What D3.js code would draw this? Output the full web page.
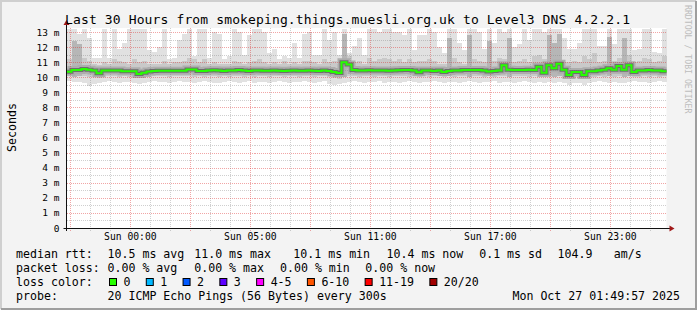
<!DOCTYPE html>
<html>
<head>
<meta charset="utf-8">
<script src="https://cdn.jsdelivr.net/npm/d3@7"></script>
<style>
  body { margin: 0; background: #f3f3f3; }
  svg text { font-family: "DejaVu Sans Mono", monospace; fill: #000; }
</style>
</head>
<body>
<div id="chart"></div>
<script>
// smokeping graph: median rtt (ms) per 15 min column, smoke envelopes around it
const median = [10.37,10.48,10.48,10.55,10.5,10.45,10.26,10.45,10.45,10.45,10.45,10.4,10.4,10.4,10.22,10.3,10.38,10.42,10.44,10.44,10.44,10.44,10.44,10.44,
  10.52,10.52,10.42,10.42,10.45,10.47,10.45,10.42,10.45,10.45,10.48,10.45,10.42,10.45,10.45,10.43,10.43,10.45,10.43,10.42,10.43,10.45,10.43,10.43,
  10.45,10.43,10.42,10.45,10.42,10.35,10.28,11.0,10.85,10.48,10.45,10.45,10.47,10.45,10.45,10.45,10.43,10.45,10.47,10.48,10.48,10.45,10.33,10.45,
  10.45,10.42,10.45,10.35,10.42,10.45,10.45,10.48,10.48,10.48,10.48,10.45,10.38,10.42,10.45,10.8,10.5,10.48,10.48,10.48,10.5,10.48,10.7,10.3,
  10.8,10.6,10.9,10.5,10.15,10.35,10.35,10.15,10.4,10.4,10.45,10.5,10.6,10.5,10.75,10.5,10.8,10.35,10.45,10.45,10.48,10.45,10.45,10.4];
// top of the lightest smoke (slowest ping)
const smokeMax = [13.2,13.2,12.9,13.2,12.6,11.3,11.3,13.2,11.3,13.2,11.9,12.3,13.2,13.2,13.2,13.2,11.8,11.7,12.0,13.2,11.2,11.3,12.5,12.9,
  13.2,11.4,13.2,13.2,11.3,13.0,12.9,11.2,11.4,13.2,13.0,11.5,12.8,13.2,13.2,13.0,11.6,11.9,11.2,11.4,11.3,12.3,11.3,12.9,
  13.0,11.5,11.5,13.2,12.5,13.0,11.5,13.2,11.6,12.1,12.6,11.5,13.2,13.2,13.0,13.2,13.2,13.0,13.0,12.8,13.2,11.8,12.8,12.8,
  13.2,13.0,12.0,11.6,13.2,13.2,12.3,11.8,13.2,13.2,13.0,11.9,13.2,12.3,13.2,13.0,13.2,12.0,12.2,13.2,12.5,13.2,13.2,13.0,
  13.2,13.2,13.2,12.6,11.9,11.9,12.3,13.2,13.2,13.2,12.1,12.1,13.2,12.2,13.2,13.2,13.2,11.8,11.9,13.2,13.2,11.7,11.6,13.2];
// top of the medium smoke
const smokeUpper = [11.2,12.4,12.2,11.3,11.1,10.9,10.8,11.0,10.9,11.2,11.1,11.0,10.9,11.2,11.0,11.1,10.9,10.9,10.9,11.1,10.9,11.0,11.0,11.1,
  11.3,11.2,11.0,11.2,10.9,11.0,10.9,10.9,10.9,11.1,11.0,10.9,11.0,11.1,11.2,11.0,10.9,11.0,10.9,11.1,10.9,11.0,10.9,11.1,
  11.1,11.0,10.9,11.2,11.0,11.1,10.9,12.9,11.4,11.0,11.1,10.9,11.3,11.1,11.2,11.3,11.2,11.1,11.2,11.0,11.2,11.0,11.1,11.1,
  11.2,11.1,10.9,10.9,12.6,11.3,11.0,10.9,12.8,11.2,11.1,11.0,12.4,11.1,11.3,11.2,12.6,11.0,11.1,11.2,11.0,11.4,11.5,11.2,
  12.8,12.3,12.9,11.0,11.0,11.1,11.0,11.4,11.2,11.6,11.0,11.1,12.7,11.1,11.3,12.6,11.5,11.0,11.1,11.3,11.2,11.0,11.1,11.4];
// bottom of the medium smoke
const smokeLower = [10.1,10.05,10.1,10.1,10.0,10.0,9.95,10.1,10.1,10.1,10.05,10.1,10.0,10.05,9.95,10.0,10.05,10.1,10.1,10.1,10.05,10.1,10.1,10.1,
  10.1,10.0,10.1,10.05,10.1,10.1,10.0,10.1,10.05,10.1,10.1,10.05,10.1,10.0,10.1,10.1,10.05,10.1,10.1,10.0,10.1,10.1,10.05,10.1,
  10.1,10.05,10.1,10.1,10.0,9.95,9.9,10.0,10.1,10.1,10.05,10.1,10.1,10.05,10.1,10.1,10.05,10.1,10.1,10.1,10.05,10.1,10.05,10.1,
  10.05,10.1,10.1,10.0,10.1,10.05,10.1,10.1,10.05,10.1,10.1,10.05,10.1,10.0,10.1,10.1,10.05,10.1,10.1,10.1,10.05,10.1,10.05,10.0,
  10.1,10.05,10.1,10.05,9.9,10.0,10.0,9.9,10.0,10.05,10.1,10.05,10.1,10.05,10.1,10.0,10.1,10.0,10.05,10.1,10.05,10.1,10.05,10.1];
// bottom of the lightest smoke (fastest ping)
const smokeMin = [9.75,9.7,9.7,9.65,9.45,9.55,9.6,9.7,9.75,9.7,9.65,9.7,9.7,9.6,9.55,9.6,9.7,9.75,9.7,9.7,9.65,9.7,9.75,9.7,
  9.7,9.6,9.7,9.75,9.7,9.65,9.6,9.7,9.75,9.7,9.6,9.7,9.75,9.65,9.7,9.7,9.6,9.7,9.75,9.7,9.65,9.7,9.7,9.75,
  9.7,9.65,9.7,9.75,9.55,9.5,9.55,9.6,9.7,9.75,9.7,9.65,9.7,9.7,9.75,9.65,9.7,9.7,9.6,9.7,9.75,9.7,9.65,9.7,
  9.7,9.75,9.7,9.65,9.7,9.7,9.6,9.7,9.75,9.7,9.65,9.7,9.7,9.75,9.65,9.7,9.7,9.6,9.7,9.75,9.7,9.65,9.7,9.6,
  9.7,9.65,9.7,9.6,9.5,9.6,9.65,9.5,9.6,9.7,9.75,9.7,9.65,9.7,9.6,9.65,9.7,9.75,9.7,9.7,9.65,9.7,9.75,9.7];

const yTicks = [0,1,2,3,4,5,6,7,8,9,10,11,12,13];
const xTickTimes = ["2025-10-25T23:00:00Z","2025-10-26T05:00:00Z","2025-10-26T11:00:00Z","2025-10-26T17:00:00Z","2025-10-26T23:00:00Z"].map(s => new Date(s));
const xTickLabels = ["Sun 00:00","Sun 05:00","Sun 11:00","Sun 17:00","Sun 23:00"];
const lossLabels = ["0","1","2","3","4-5","6-10","11-19","20/20"];
const lossColors = ["#26ff00","#00b8ff","#0059ff","#5e00ff","#ff00ff","#ff5500","#ff0000","#a10000"];

const endTime = new Date("2025-10-27T01:49:57Z");
const startTime = new Date(endTime - 30 * 3600e3);
const step = 15 * 60e3;

const W = 697, H = 310;
const plot = { left: 66.5, right: 666.5, top: 28, bottom: 228 };

const svg = d3.select("#chart").append("svg")
    .attr("width", W).attr("height", H);

// canvas + frame
svg.append("rect").attr("width", W).attr("height", H).attr("fill", "#f3f3f3");
svg.append("path").attr("d", `M1,${H-1} V1 H${W-1}`).attr("stroke", "#cfcfcf").attr("stroke-width", 2).attr("fill", "none");
svg.append("path").attr("d", `M1,${H-1} H${W-1} V1`).attr("stroke", "#9e9e9e").attr("stroke-width", 2).attr("fill", "none");

const x = d3.scaleUtc().domain([startTime, endTime]).range([plot.left, plot.right]);
const y = d3.scaleLinear().domain([0, 13.27]).range([plot.bottom, plot.top]);

svg.append("rect")
    .attr("x", plot.left).attr("y", plot.top)
    .attr("width", plot.right - plot.left).attr("height", plot.bottom - plot.top)
    .attr("fill", "#fff");

const cols = median.map((m, i) => ({
    t0: new Date(+startTime + i * step),
    t1: new Date(+startTime + (i + 1) * step),
    med: m, max: smokeMax[i], up: smokeUpper[i], dn: smokeLower[i], min: smokeMin[i]
}));

const smoke = svg.append("g").attr("shape-rendering", "crispEdges");
smoke.selectAll(".light").data(cols).join("rect")
    .attr("x", d => x(d.t0)).attr("width", d => x(d.t1) - x(d.t0))
    .attr("y", d => y(d.max)).attr("height", d => y(d.min) - y(d.max))
    .attr("fill", "#e1e1e1");
smoke.selectAll(".mid").data(cols).join("rect")
    .attr("x", d => x(d.t0)).attr("width", d => x(d.t1) - x(d.t0))
    .attr("y", d => y(d.up)).attr("height", d => y(d.dn) - y(d.up))
    .attr("fill", d => d.up > 12 ? "#b6b6b6" : "#c9c9c9");

const pts = cols.map(d => ({ t: d.t0, v: d.med }));
pts.push({ t: endTime, v: median[median.length - 1] });
const medLine = d3.line().x(d => x(d.t)).y(d => y(d.v)).curve(d3.curveStepAfter);
svg.append("path").attr("d", medLine(pts)).attr("fill", "none").attr("stroke", "#adadad").attr("stroke-width", 8);
svg.append("path").attr("d", medLine(pts)).attr("fill", "none").attr("stroke", "#6e6e6e").attr("stroke-width", 4);

// grid
const grid = svg.append("g").attr("shape-rendering", "crispEdges");
const yGrid = d3.range(1, 27).map(k => k * 0.5);
grid.selectAll(".hg").data(yGrid).join("line")
    .attr("x1", plot.left).attr("x2", plot.right)
    .attr("y1", d => Math.round(y(d)) + 0.5).attr("y2", d => Math.round(y(d)) + 0.5)
    .attr("stroke", d => d % 1 === 0 ? "rgba(222,40,40,0.42)" : "rgba(130,130,130,0.38)")
    .attr("stroke-dasharray", "1,1");
const hours = d3.utcHour.range(startTime, endTime);
grid.selectAll(".vg").data(hours).join("line")
    .attr("x1", d => Math.round(x(d)) + 0.5).attr("x2", d => Math.round(x(d)) + 0.5)
    .attr("y1", plot.top).attr("y2", plot.bottom + 3)
    .attr("stroke", d => d.getUTCHours() % 3 === 2 ? "rgba(222,40,40,0.42)" : "rgba(130,130,130,0.38)")
    .attr("stroke-dasharray", "1,1");

// median line (0 loss colour)
svg.append("path").attr("d", medLine(pts)).attr("fill", "none")
    .attr("stroke", lossColors[0]).attr("stroke-width", 2);

// axes
svg.append("line").attr("x1", plot.left - 3).attr("x2", plot.right + 4)
    .attr("y1", plot.bottom + 0.5).attr("y2", plot.bottom + 0.5).attr("stroke", "#101010");
svg.append("line").attr("x1", plot.left).attr("x2", plot.left)
    .attr("y1", plot.bottom + 3).attr("y2", plot.top - 5).attr("stroke", "#101010");
svg.append("path").attr("d", `M${plot.right + 8},${plot.bottom + 0.5} l-5,-3 v6 z`).attr("fill", "#a01818");
svg.append("path").attr("d", `M${plot.left},${plot.top - 8} l-3,5 h6 z`).attr("fill", "#a01818");

const yAxis = svg.append("g")
    .attr("transform", `translate(${plot.left},0)`)
    .call(d3.axisLeft(y).tickValues(yTicks).tickSize(0).tickPadding(7)
        .tickFormat(d => d === 0 ? "0" : d + " m"));
yAxis.select(".domain").remove();
yAxis.selectAll("text").style("font-size", "9.5px").style("font-family", "DejaVu Sans Mono").attr("fill", "#000");

const xAxis = svg.append("g")
    .attr("transform", `translate(0,${plot.bottom})`)
    .call(d3.axisBottom(x).tickValues(xTickTimes).tickSize(0).tickPadding(5.6)
        .tickFormat((d, i) => xTickLabels[i]));
xAxis.select(".domain").remove();
xAxis.selectAll("text").style("font-size", "9.7px").style("font-family", "DejaVu Sans Mono").attr("fill", "#000");

// titles
svg.append("text").attr("x", 347.5).attr("y", 24).attr("text-anchor", "middle")
    .style("font-size", "13px").attr("textLength", 565).attr("lengthAdjust", "spacing")
    .text("Last 30 Hours from smokeping.things.muesli.org.uk to Level3 DNS 4.2.2.1");
svg.append("text").attr("transform", "translate(15.5,127.5) rotate(-90)")
    .attr("text-anchor", "middle").style("font-size", "11.6px").text("Seconds");
svg.append("text").attr("transform", "translate(685,5) rotate(90)")
    .style("font-size", "8.2px").style("fill", "#bdbdbd").text("RRDTOOL / TOBI OETIKER");

// legend
const lg = svg.append("g").style("font-size", "11.6px");
const rows = [
    [258, [[16, "median rtt:"], [107.5, "10.5 ms avg"], [194.2, "11.0 ms max"], [293.3, "10.1 ms min"], [386.5, "10.4 ms now"], [479.2, "0.1 ms sd"], [557.5, "104.9"], [613.7, "am/s"]]],
    [272, [[16, "packet loss:"], [107.5, "0.00 % avg"], [194.2, "0.00 % max"], [280, "0.00 % min"], [365.3, "0.00 % now"]]],
    [286, [[16, "loss color:"]]],
    [300, [[16, "probe:"], [107.5, "20 ICMP Echo Pings (56 Bytes) every 300s"]]]
];
rows.forEach(([by, items]) => {
    items.forEach(([lx, s]) => lg.append("text").attr("x", lx).attr("y", by).text(s));
});
lg.append("text").attr("x", 680).attr("y", 300).attr("text-anchor", "end").text("Mon Oct 27 01:49:57 2025");

let lx = 109;
lossLabels.forEach((lab, i) => {
    lg.append("rect").attr("x", lx + 0.5).attr("y", 278.5).attr("width", 7).attr("height", 7)
        .attr("fill", lossColors[i]).attr("stroke", "#000");
    lg.append("text").attr("x", lx + 14.5).attr("y", 286).text(lab);
    lx += 14.5 + lab.length * 6.985 + 15.3;
});
</script>
</body>
</html>
